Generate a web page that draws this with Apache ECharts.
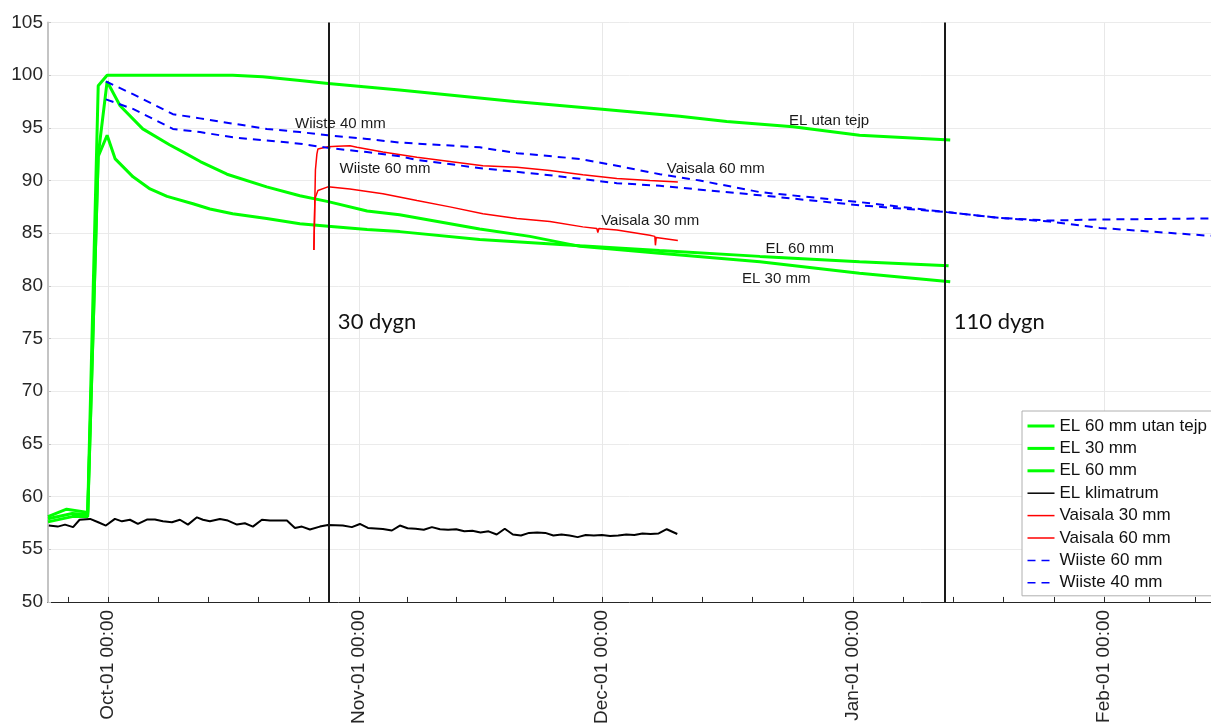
<!DOCTYPE html>
<html>
<head>
<meta charset="utf-8">
<script src="https://cdn.jsdelivr.net/npm/echarts@6/dist/echarts.min.js"></script>
<style>
html,body{margin:0;padding:0;background:#fff;}
#chart{width:1211px;height:727px;}
</style>
</head>
<body>
<div id="chart"></div>
<script>
// x values are days relative to Oct-01 00:00
const xMin = -7.4, xMax = 136.2;
const monthTickDays = [0, 31, 61, 92, 123];
const monthTickLabels = ['Oct-01 00:00', 'Nov-01 00:00', 'Dec-01 00:00', 'Jan-01 00:00', 'Feb-01 00:00'];
const minorTickDays = [-4.9, 6.2, 12.4, 18.6, 24.8, 37, 43, 49, 55, 67.2, 73.4, 79.6, 85.8, 98.2, 104.4, 110.6, 116.8, 128.6, 134.2];

const elUtanTejp = [[-7.4,58.1],[-5.1,58.8],[-2.5,58.5],[-1.2,99.0],[-0.1,100.0],[7.6,100.0],[15.4,100.0],[19.1,99.85],[23.7,99.5],[27.2,99.2],[36.0,98.6],[50.2,97.5],[60.7,96.8],[70.6,96.1],[76.4,95.6],[84.6,95.1],[92.8,94.3],[104.0,93.85]];
const el30 = [[-7.4,57.9],[-4.4,58.4],[-2.5,58.3],[-1.2,92.4],[-0.1,99.4],[1.5,97.1],[4.3,94.9],[7.6,93.4],[9.3,92.7],[11.4,91.8],[14.7,90.6],[19.6,89.4],[23.7,88.55],[27.2,88.0],[32.0,87.1],[36.0,86.75],[45.9,85.4],[52.1,84.7],[58.3,83.75],[68.1,83.1],[80.5,82.3],[92.8,81.2],[104.0,80.4]];
const el60 = [[-7.4,57.6],[-4.4,58.1],[-2.5,58.1],[-1.2,92.3],[-0.1,94.3],[0.9,92.05],[3.1,90.35],[5.2,89.2],[7.3,88.5],[10.5,87.8],[12.6,87.3],[15.4,86.85],[19.6,86.4],[23.7,85.9],[27.2,85.65],[32.0,85.35],[36.0,85.15],[45.9,84.4],[58.3,83.8],[68.1,83.35],[80.5,82.8],[92.8,82.3],[103.8,81.9]];
const elKlimatrum = [[-7.3,57.25],[-6.2,57.15],[-5.3,57.34],[-4.3,57.1],[-3.5,57.8],[-2.2,57.88],[-1.2,57.56],[-0.25,57.25],[0.86,57.88],[1.73,57.65],[2.72,57.8],[3.7,57.4],[4.81,57.82],[5.8,57.82],[6.79,57.65],[7.9,57.56],[8.89,57.8],[9.88,57.34],[10.99,58.03],[11.73,57.8],[12.59,57.65],[13.83,57.88],[14.81,57.72],[15.93,57.34],[16.91,57.47],[17.9,57.15],[19.01,57.8],[20.0,57.72],[22.1,57.72],[23.09,57.02],[23.95,57.15],[24.94,56.87],[26.17,57.15],[27.16,57.31],[29.0,57.25],[30.12,57.1],[31.11,57.4],[32.1,57.02],[33.95,56.93],[35.06,56.78],[36.05,57.25],[37.0,57.0],[38.0,56.95],[39.0,56.85],[40.0,57.1],[41.0,56.9],[42.0,56.85],[43.0,56.9],[44.0,56.7],[45.0,56.75],[46.0,56.6],[47.0,56.7],[48.0,56.4],[49.0,56.95],[50.0,56.4],[51.0,56.3],[52.0,56.55],[53.0,56.6],[54.0,56.55],[55.0,56.3],[56.0,56.4],[57.0,56.3],[58.0,56.15],[59.0,56.35],[60.0,56.3],[61.0,56.35],[62.0,56.25],[63.0,56.3],[64.0,56.4],[65.0,56.35],[66.0,56.5],[67.0,56.45],[68.0,56.5],[69.0,56.9],[70.3,56.45]];
const vaisala30 = [[25.43,83.4],[25.56,88.3],[25.93,89.05],[27.16,89.4],[29.88,89.2],[33.95,88.75],[38.15,88.1],[42.22,87.5],[46.3,86.85],[50.49,86.4],[54.57,86.1],[58.64,85.6],[60.37,85.45],[60.49,85.05],[60.62,85.45],[62.84,85.3],[66.91,84.8],[67.53,84.7],[67.6,83.85],[67.7,84.6],[70.37,84.3]];
const vaisala60 = [[25.43,83.4],[25.62,91.0],[25.8,92.5],[25.93,93.0],[27.16,93.2],[28.27,93.25],[29.88,93.3],[30.74,93.15],[33.95,92.7],[38.15,92.2],[42.22,91.8],[46.3,91.4],[50.49,91.25],[54.57,90.95],[58.64,90.55],[62.84,90.2],[66.91,90.0],[70.37,89.85]];
const wiiste60 = [[-0.25,97.7],[3.09,96.8],[8.02,94.9],[11.36,94.6],[15.43,94.1],[19.63,93.8],[23.7,93.5],[27.16,93.1],[31.98,92.7],[36.05,92.3],[38.15,91.95],[46.3,91.15],[54.57,90.5],[62.84,89.75],[68.15,89.5],[80.49,88.6],[92.84,87.65],[103.58,87.0],[110.12,86.45],[116.3,86.2],[122.47,86.3],[136.17,86.4]];
const wiiste40 = [[-0.25,99.4],[3.09,98.2],[8.02,96.3],[11.36,95.9],[15.43,95.4],[19.63,94.9],[23.7,94.6],[27.16,94.3],[31.98,93.95],[36.05,93.6],[45.93,93.15],[50.49,92.6],[58.27,92.05],[62.84,91.4],[68.15,90.6],[73.09,90.0],[80.49,88.9],[92.84,87.95],[103.58,87.0],[110.12,86.45],[116.3,86.1],[122.47,85.5],[136.17,84.75]];

const markerDays = [27.28, 103.33];
const markerTexts = ['30 dygn', '110 dygn'];

const annotFont = 'Liberation Sans, Arial, sans-serif';
function annot(text, day, val) {
  return { coord: [day, val], value: text, symbol: 'circle', symbolSize: 0,
    label: { show: true, position: 'right', distance: 0, formatter: text, color: '#1a1a1a', fontSize: 15, fontFamily: annotFont } };
}

const chart = echarts.init(document.getElementById('chart'), null, { renderer: 'canvas' });
const green = '#00ff00', red = '#ff0000', blue = '#0000ff';

function lineSeries(name, data, color, width, type, marks) {
  const s = { name, type: 'line', data, showSymbol: false, symbol: 'none', xAxisIndex: 0,
    lineStyle: { color, width, type: type || 'solid' }, itemStyle: { color }, emphasis: { disabled: true }, silent: true };
  if (type === 'dashed') { s.lineStyle.type = [8, 6]; }
  if (marks) { s.markPoint = { silent: true, animation: false, data: marks }; }
  return s;
}

const series = [
  lineSeries('EL 60 mm utan tejp', elUtanTejp, green, 3, null, [annot('EL utan tejp', 84.1, 95.7)]),
  lineSeries('EL 30 mm', el30, green, 3, null, [annot('EL 30 mm', 78.3, 80.7)]),
  lineSeries('EL 60 mm', el60, green, 3, null, [annot('EL 60 mm', 81.2, 83.55)]),
  lineSeries('EL klimatrum', elKlimatrum, '#000000', 2, null, null),
  lineSeries('Vaisala 30 mm', vaisala30, red, 1.5, null, [annot('Vaisala 30 mm', 60.9, 86.2)]),
  lineSeries('Vaisala 60 mm', vaisala60, red, 1.5, null, [annot('Vaisala 60 mm', 69.0, 91.1)]),
  lineSeries('Wiiste 60 mm', wiiste60, blue, 2, 'dashed', [annot('Wiiste 60 mm', 28.6, 91.1)]),
  lineSeries('Wiiste 40 mm', wiiste40, blue, 2, 'dashed', [annot('Wiiste 40 mm', 23.1, 95.35)])
];
// vertical marker lines + their texts
series[3].markLine = { silent: true, animation: false, symbol: 'none', label: { show: false },
  lineStyle: { color: '#1a1a1a', width: 2, type: 'solid' },
  data: markerDays.map(d => ({ xAxis: d })) };
series[3].markPoint = { silent: true, animation: false,
  data: markerDays.map((d, i) => ({ coord: [d, 76.6], symbol: 'circle', symbolSize: 0,
    label: { show: true, position: 'right', distance: 9, formatter: markerTexts[i], color: '#111', fontSize: 22, fontFamily: 'Lato, Open Sans, sans-serif' } })) };

chart.setOption({
  animation: false,
  backgroundColor: '#ffffff',
  grid: { left: 48, right: 0, top: 22.5, bottom: 122, containLabel: false },
  legend: {
    data: series.map(s => ({ name: s.name, lineStyle: { width: s.lineStyle.width >= 3 ? 3 : 1.5, type: s.lineStyle.type, color: s.lineStyle.color } })),
    orient: 'vertical', left: 1022, top: 411,
    backgroundColor: '#ffffff', borderColor: '#b0b0b0', borderWidth: 1,
    padding: [6, 10, 4, 4], itemWidth: 27, itemHeight: 14, itemGap: 4.4,
    itemStyle: { color: 'rgba(0,0,0,0)', borderWidth: 0, opacity: 0 },
    textStyle: { fontSize: 17, color: '#111', fontFamily: annotFont, lineHeight: 18 },
    selectedMode: false
  },
  xAxis: [{
    type: 'value', min: xMin, max: xMax, position: 'bottom',
    axisLine: { show: true, onZero: false, lineStyle: { color: '#262626', width: 1 } },
    axisTick: { show: true, inside: true, length: 5, customValues: monthTickDays, lineStyle: { color: '#262626' } },
    axisLabel: { show: true, customValues: monthTickDays, rotate: 90, margin: 8, fontSize: 19, color: '#262626', fontFamily: annotFont,
      formatter: v => { const i = monthTickDays.indexOf(v); return i >= 0 ? monthTickLabels[i] : ''; } },
    splitLine: { show: true, lineStyle: { color: '#e8e8e8', width: 1 } }
  }, {
    type: 'value', min: xMin, max: xMax, position: 'bottom',
    axisLine: { show: false, onZero: false },
    axisTick: { show: true, inside: true, length: 5, customValues: minorTickDays, lineStyle: { color: '#262626' } },
    axisLabel: { show: false },
    splitLine: { show: false }
  }],
  yAxis: {
    type: 'value', min: 50, max: 105, interval: 5, position: 'left',
    axisLine: { show: true, onZero: false, lineStyle: { color: '#c4c4c4', width: 2 } },
    axisTick: { show: true, inside: true, length: 3, lineStyle: { color: '#c4c4c4' } },
    axisLabel: { fontSize: 19, color: '#262626', margin: 5, fontFamily: annotFont },
    splitLine: { show: true, lineStyle: { color: '#ebebeb', width: 1 } }
  },
  series: series
});
</script>
</body>
</html>
